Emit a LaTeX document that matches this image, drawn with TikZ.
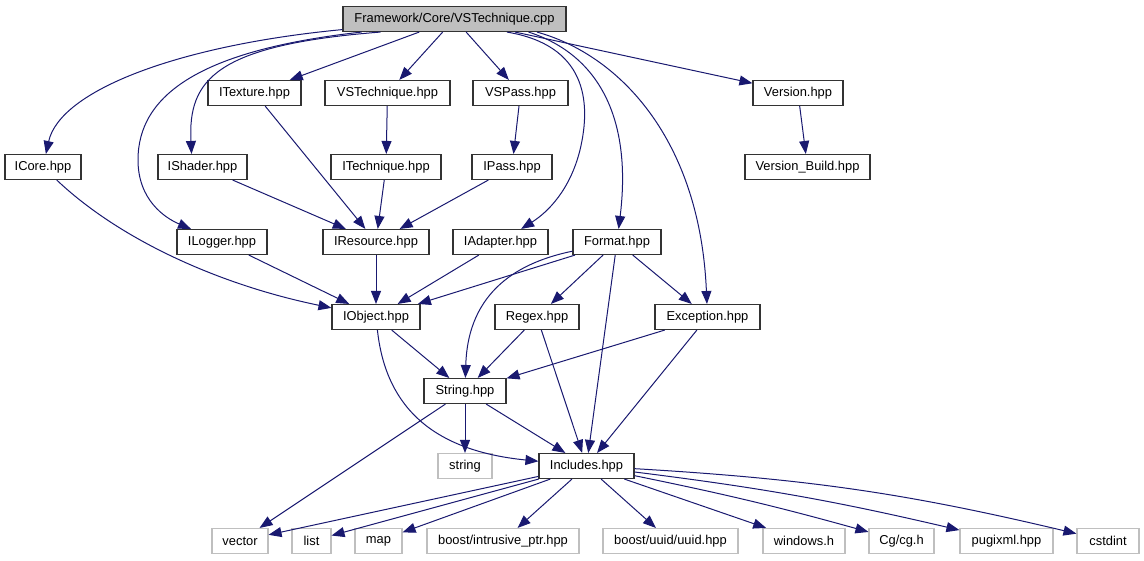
\documentclass[tikz,border=0pt]{standalone}
\usepackage{fontspec}
\setmainfont{Liberation Sans}
\usepackage{tikz}
\usetikzlibrary{arrows.meta, positioning}
\definecolor{edgeblue}{HTML}{191970}
\definecolor{rootgray}{HTML}{BFBFBF}
\tikzset{
  header/.style={
    rectangle, draw=black!80, line width=1.1pt, fill=white,
    minimum height=25pt, inner sep=0pt,
    font=\fontsize{12.9}{14}\selectfont
  },
  source/.style={header, fill=rootgray},
  sysheader/.style={header, draw=rootgray},
  incl/.style={-{Triangle[length=13pt,width=10pt]}, draw=edgeblue, line width=1pt}
}

\begin{document}
\begin{tikzpicture}[x=1pt, y=-1pt]
\useasboundingbox (0,0) rectangle (1144,560);

% Source file
\node[source, minimum width=223pt] (cpp) at (454.5,19) {Framework/Core/VSTechnique.cpp};

% Project headers
\node[header, minimum width=93pt]  (itex)    at (254.5,93) {ITexture.hpp};
\node[header, minimum width=125pt] (vstech)  at (387.5,93) {VSTechnique.hpp};
\node[header, minimum width=95pt]  (vspass)  at (520.5,93) {VSPass.hpp};
\node[header, minimum width=90pt]  (version) at (798,93)   {Version.hpp};
\node[header, minimum width=76pt]  (icore)   at (43,167)    {ICore.hpp};
\node[header, minimum width=89pt]  (ishader) at (202.5,167) {IShader.hpp};
\node[header, minimum width=110pt] (itech)   at (386,167)   {ITechnique.hpp};
\node[header, minimum width=80pt]  (ipass)   at (512,167)   {IPass.hpp};
\node[header, minimum width=125pt] (vbuild)  at (807.5,167) {Version\_Build.hpp};
\node[header, minimum width=90pt]  (ilogger) at (222,242)   {ILogger.hpp};
\node[header, minimum width=106pt] (ires)    at (376,242)   {IResource.hpp};
\node[header, minimum width=95pt]  (iadapt)  at (500.5,242) {IAdapter.hpp};
\node[header, minimum width=88pt]  (format)  at (617,242)   {Format.hpp};
\node[header, minimum width=88pt]  (iobj)    at (376,317)   {IObject.hpp};
\node[header, minimum width=84pt]  (regex)   at (537,317)   {Regex.hpp};
\node[header, minimum width=105pt] (except)  at (707.5,317) {Exception.hpp};
\node[header, minimum width=82pt]  (str)     at (465,391)   {String.hpp};
\node[header, minimum width=95pt]  (incl)    at (586.5,466) {Includes.hpp};

% System headers
\node[sysheader, minimum width=54pt]  (stdstr)    at (465,466)    {string};
\node[sysheader, minimum width=56pt]  (vector)    at (240,541)    {vector};
\node[sysheader, minimum width=39pt]  (list)      at (311.5,541)  {list};
\node[sysheader, minimum width=47pt]  (map)       at (378.5,541)  {map};
\node[sysheader, minimum width=152pt] (intrusive) at (503,541)    {boost/intrusive\_ptr.hpp};
\node[sysheader, minimum width=135pt] (uuid)      at (670.5,541)  {boost/uuid/uuid.hpp};
\node[sysheader, minimum width=82pt]  (windows)   at (804,541)    {windows.h};
\node[sysheader, minimum width=65pt]  (cg)        at (901.5,541)  {Cg/cg.h};
\node[sysheader, minimum width=93pt]  (pugixml)   at (1006.5,541) {pugixml.hpp};
\node[sysheader, minimum width=62pt]  (cstdint)   at (1108,541)   {cstdint};

% Includes of the source file
\draw[incl] (cpp) .. controls (180,45) and (60,90) .. (icore);
\draw[incl] (cpp.188) .. controls (200,50) and (138,95) .. (138,160)
  .. controls (138,200) and (165,218) .. (ilogger);
\draw[incl] (cpp.190) .. controls (215,45) and (188,80) .. (ishader.130);
\draw[incl] (cpp) -- (itex);
\draw[incl] (cpp) -- (vstech);
\draw[incl] (cpp) -- (vspass);
\draw[incl] (cpp.-14) .. controls (585,45) and (592,100) .. (580,150)
  .. controls (570,190) and (548,212) .. (iadapt);
\draw[incl] (cpp.-10) .. controls (600,55) and (632,120) .. (format);
\draw[incl] (cpp.-9) .. controls (620,55) and (700,140) .. (except);
\draw[incl] (cpp) -- (version);

% Second level
\draw[incl] (itex) -- (ires);
\draw[incl] (vstech) -- (itech);
\draw[incl] (vspass) -- (ipass);
\draw[incl] (version) -- (vbuild);
\draw[incl] (icore) .. controls (120,240) and (220,285) .. (iobj);
\draw[incl] (ishader) -- (ires);
\draw[incl] (itech) -- (ires);
\draw[incl] (ipass) -- (ires);
\draw[incl] (ilogger) -- (iobj);
\draw[incl] (ires) -- (iobj);
\draw[incl] (iadapt) -- (iobj);
\draw[incl] (format) -- (iobj);
\draw[incl] (format) .. controls (520,262) and (468,290) .. (str);
\draw[incl] (format) -- (regex);
\draw[incl] (format) -- (incl);
\draw[incl] (format) -- (except);
\draw[incl] (iobj) -- (str);
\draw[incl] (iobj) .. controls (385,400) and (425,450) .. (incl);
\draw[incl] (regex) -- (str);
\draw[incl] (regex) -- (incl);
\draw[incl] (except) -- (str);
\draw[incl] (except) -- (incl);
\draw[incl] (str) -- (vector);
\draw[incl] (str) -- (stdstr);
\draw[incl] (str) -- (incl);

% Includes.hpp fan-out
\draw[incl] (incl) -- (vector);
\draw[incl] (incl) -- (list);
\draw[incl] (incl) -- (map);
\draw[incl] (incl) -- (intrusive);
\draw[incl] (incl) -- (uuid);
\draw[incl] (incl) -- (windows);
\draw[incl] (incl) to[bend left=2] (cg);
\draw[incl] (incl) to[bend left=3] (pugixml);
\draw[incl] (incl) to[bend left=5] (cstdint);

\end{tikzpicture}
\end{document}
